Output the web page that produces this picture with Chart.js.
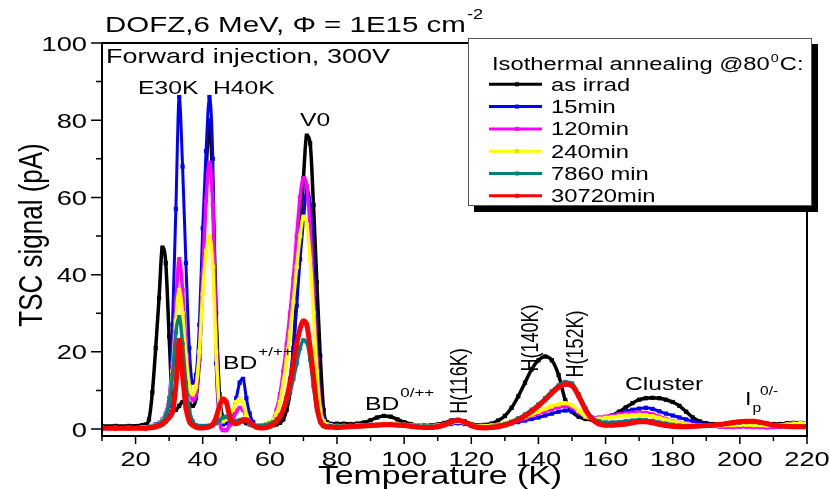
<!DOCTYPE html>
<html>
<head>
<meta charset="utf-8">
<title>TSC spectra - isothermal annealing</title>
<script src="https://cdn.jsdelivr.net/npm/chart.js@4.4.1/dist/chart.umd.min.js"></script>
<style>
  html, body { margin: 0; padding: 0; background: #fff; overflow: hidden; }
  canvas { display: block; }
</style>
</head>
<body>
<canvas id="tsc" width="829" height="489"></canvas>
<script>
// Temperature grid (K): coarse in the tails, 1 K through the low-T peaks
const temps = [10, 14, 18, 22,
  23, 24, 25, 26, 27, 28, 29, 30, 31, 32, 33, 34, 35, 36, 37, 38, 39, 40, 41, 42, 43, 44, 45, 46, 47, 48, 49, 50,
  51, 52, 53, 54, 55, 56, 57, 58, 59, 60, 61, 62, 63, 64, 65, 66, 67, 68, 69, 70, 71, 72, 73, 74, 75, 76, 77, 78,
  80, 82, 84, 86, 88, 90, 92, 94, 96, 98, 100, 102, 104, 106, 108, 110, 112, 114, 116, 118,
  120, 122, 124, 126, 128, 130, 132, 134, 136, 138, 140, 142, 144, 146, 148, 150, 152, 154, 156, 158,
  160, 162, 164, 166, 168, 170, 172, 174, 176, 178, 180, 182, 184, 186, 188, 190, 192, 194, 196, 198,
  200, 202, 204, 206, 208, 210, 212, 214, 216, 218, 220];

// TSC signal (pA) for each annealing step
const asIrrad = [0.8, 0.8, 0.8, 1.0,
  1.2, 2.5, 9.5, 21, 34, 47, 43, 24, 7, 5, 6, 7, 7, 6.5, 6, 8, 18, 40, 66, 80, 62, 30, 9, 3, 2, 2, 2, 2,
  2, 2, 1.5, 1.2, 1, 1, 0.9, 0.9, 0.9, 1, 1, 1.2, 1.6, 2.5, 5, 9.5, 20, 35, 50, 65, 76, 74, 58, 38, 19, 5, 1.8, 1.4,
  1.4, 1.4, 1.3, 1.4, 1.7, 2.3, 3.0, 3.4, 3.2, 2.5, 1.8, 1.3, 1.0, 0.9, 1.0, 1.2, 1.6, 2.2, 2.4, 2.0,
  1.3, 1.0, 1.1, 1.4, 2.2, 3.4, 5.5, 8.5, 12, 15.5, 17.8, 18.8, 17.8, 14, 7.5, 4.5, 3.2, 2.6, 2.4, 2.6,
  3.0, 3.6, 4.5, 5.6, 6.7, 7.6, 8.0, 8.1, 8.0, 7.6, 7.0, 6.0, 4.5, 3.0, 2.0, 1.5, 1.3, 1.3, 1.4, 1.5,
  1.6, 1.7, 1.7, 1.6, 1.4, 1.3, 1.3, 1.5, 1.6, 1.6, 1.6];

const min15 = [0.4, 0.4, 0.4, 0.5,
  0.5, 0.6, 0.8, 1.2, 1.6, 2.2, 3, 6, 27, 57, 86, 68, 43, 21, 12, 14, 27, 52, 72, 86, 70, 17, 3.5, 1.2, 1.5, 3, 4.5, 8,
  12, 13, 8, 4, 1.8, 1, 0.9, 0.9, 1, 1.2, 1.5, 2, 3, 5, 8, 13, 21, 32, 44, 54, 62, 58, 42, 22, 8, 3, 1.5, 1.2,
  0.9, 0.9, 0.9, 1.0, 1.0, 1.1, 1.2, 1.3, 1.3, 1.2, 1.1, 1.0, 0.9, 0.8, 0.8, 0.9, 1.0, 1.3, 1.5, 1.3,
  1.0, 0.8, 0.8, 0.9, 1.0, 1.2, 1.5, 1.8, 2.2, 2.6, 3.0, 3.5, 4.0, 4.5, 4.8, 4.6, 3.8, 3.0, 2.6, 2.7,
  3.0, 3.5, 4.0, 4.6, 5.0, 5.3, 5.5, 5.2, 4.6, 4.0, 3.5, 3.0, 2.5, 2.0, 1.5, 1.1, 0.9, 0.8, 0.8, 0.8,
  0.8, 0.8, 0.8, 0.8, 0.7, 0.7, 0.7, 0.7, 0.7, 0.7, 0.7];

const min120 = [0.3, 0.3, 0.3, 0.4,
  0.4, 0.5, 0.7, 1.0, 1.5, 2.5, 4, 8, 17, 32, 44, 36, 22, 11, 7.5, 9, 19, 40, 59, 69, 58, 25, 2.5, -0.3, -0.3, 1, 2.5, 4.5,
  5.5, 5, 3, 1.5, 1, 0.9, 0.9, 1, 1.3, 1.7, 2.3, 5, 9, 15, 22, 30, 39, 50, 60, 65, 63, 52, 35, 18, 6, 2, 1.2, 1.0,
  0.8, 0.8, 0.8, 0.9, 1.0, 1.1, 1.2, 1.3, 1.3, 1.2, 1.1, 1.0, 0.9, 0.8, 0.8, 0.9, 1.1, 1.5, 1.8, 1.5,
  1.0, 0.8, 0.8, 0.9, 1.1, 1.4, 1.8, 2.3, 2.8, 3.4, 4.0, 4.6, 5.2, 5.7, 6.0, 5.6, 4.3, 3.2, 2.8, 3.0,
  3.2, 3.5, 3.8, 4.0, 4.2, 4.3, 4.2, 3.8, 3.2, 2.6, 2.0, 1.6, 1.3, 1.1, 1.0, 0.9, 0.8, 0.6, 0.5, 0.5,
  0.6, 0.6, 0.5, 0.5, 0.4, 0.5, 0.6, 0.7, 0.8, 0.8, 0.8];

const min240 = [0.3, 0.3, 0.3, 0.4,
  0.4, 0.5, 0.7, 1.0, 1.5, 2.2, 3.5, 7, 15, 28, 36, 30, 19, 11, 9, 11, 20, 35, 46, 50, 42, 20, 5, 2, 2.5, 3.5, 5, 7,
  7.8, 6.5, 3.5, 1.5, 1, 0.9, 0.9, 1, 1.3, 1.8, 2.3, 4, 7, 12, 18, 25, 33, 42, 50, 55, 53, 44, 30, 15, 5, 2, 1.2, 1.0,
  0.8, 0.8, 0.8, 0.9, 1.0, 1.1, 1.2, 1.3, 1.3, 1.2, 1.1, 1.0, 0.9, 0.8, 0.8, 0.9, 1.2, 1.6, 1.9, 1.6,
  1.1, 0.8, 0.8, 0.9, 1.1, 1.5, 1.9, 2.5, 3.1, 3.8, 4.5, 5.2, 5.9, 6.4, 6.7, 6.2, 4.7, 3.3, 2.7, 2.7,
  2.9, 3.1, 3.3, 3.5, 3.6, 3.7, 3.6, 3.3, 2.9, 2.4, 1.9, 1.5, 1.2, 1.0, 0.9, 0.9, 0.9, 0.9, 1.0, 1.0,
  1.1, 1.1, 1.0, 1.0, 0.9, 0.9, 1.0, 1.2, 1.4, 1.5, 1.5];

const min7860 = [0.2, 0.2, 0.2, 0.3,
  0.3, 0.4, 0.6, 0.9, 1.4, 2, 3.5, 7, 14, 25, 29, 22, 12, 5, 2, 1, 0.8, 0.8, 0.8, 0.9, 1.1, 1.5, 2.2, 3, 3.2, 2.6, 2.0, 2.0,
  2.3, 2.5, 2.2, 1.5, 1.0, 0.8, 0.8, 0.9, 1.1, 1.4, 1.8, 2.5, 3.5, 5, 7, 9.5, 13, 17, 21, 23, 22.5, 18, 11, 5, 2, 1, 0.8, 0.8,
  0.7, 0.7, 0.7, 0.8, 0.9, 1.0, 1.1, 1.2, 1.2, 1.1, 1.0, 0.9, 0.8, 0.7, 0.7, 0.8, 1.1, 1.7, 2.1, 1.7,
  1.0, 0.6, 0.5, 0.6, 0.9, 1.3, 1.9, 2.8, 3.8, 5.0, 6.4, 8.0, 9.8, 11.3, 12.2, 11.8, 9.0, 5.5, 3.0, 2.0,
  1.7, 1.7, 1.8, 2.0, 2.2, 2.4, 2.3, 2.1, 1.7, 1.4, 1.1, 0.9, 0.8, 0.8, 0.8, 0.9, 1.0, 1.1, 1.3, 1.5,
  1.7, 1.8, 1.8, 1.6, 1.3, 1.0, 0.8, 0.7, 0.7, 0.7, 0.7];

const min30720 = [0.2, 0.2, 0.2, 0.2,
  0.2, 0.3, 0.4, 0.6, 0.9, 1.3, 2, 3, 4.5, 11, 23, 14, 5.5, 2, 1, 0.5, 0.3, 0.3, 0.4, 0.6, 1.2, 3, 6, 7.8, 7, 3.5, 1.6, 1.4,
  1.8, 2.3, 2.4, 1.8, 1.0, 0.5, 0.3, 0.3, 0.4, 0.7, 1.2, 2, 3.2, 5, 8, 12, 17, 22, 26, 28, 27, 21, 13.5, 6, 2, 0.8, 0.5, 0.5,
  0.4, 0.5, 0.6, 0.7, 0.8, 0.9, 1.0, 1.1, 1.1, 1.0, 0.9, 0.7, 0.5, 0.4, 0.4, 0.6, 1.1, 1.9, 2.3, 1.8,
  0.9, 0.4, 0.3, 0.4, 0.6, 1.0, 1.6, 2.4, 3.4, 4.6, 6.0, 7.6, 9.3, 10.8, 11.6, 11.2, 8.5, 5.0, 2.5, 1.3,
  1.0, 1.0, 1.1, 1.3, 1.6, 1.9, 1.9, 1.6, 1.2, 0.9, 0.7, 0.6, 0.6, 0.7, 0.8, 0.9, 1.0, 1.2, 1.4, 1.7,
  1.9, 2.0, 2.0, 1.8, 1.4, 1.0, 0.8, 0.7, 0.6, 0.6, 0.6];

const seriesNames = ['as irrad', '15min', '120min', '240min', '7860 min', '30720min'];
const xTicks = [20, 40, 60, 80, 100, 120, 140, 160, 180, 200, 220];
const xMinorTicks = [10, 30, 50, 70, 90, 110, 130, 150, 170, 190, 210];
const yTicks = [0, 20, 40, 60, 80, 100];
const yMinorTicks = [10, 30, 50, 70, 90];

// styling
const seriesColors = ['#000000', '#0000ff', '#ff00ff', '#ffff00', '#008080', '#ff0000'];
const lineWidths = [3.5, 3, 3.5, 3.5, 3.5, 5];
const FONT = '"Liberation Sans", Arial, sans-serif';
const SX = 1.3; // horizontal stretch applied to all lettering

function text(ctx, s, x, y, size, align) {
  ctx.save();
  ctx.font = size + 'px ' + FONT;
  ctx.textAlign = align || 'left';
  ctx.textBaseline = 'alphabetic';
  ctx.translate(x, y);
  ctx.scale(SX, 1);
  ctx.fillText(s, 0, 0);
  const w = ctx.measureText(s).width * SX;
  ctx.restore();
  return w;
}

// text reading bottom-to-top, centred on (x, y)
function vtext(ctx, s, x, y, size, baseline) {
  ctx.save();
  ctx.font = size + 'px ' + FONT;
  ctx.textAlign = 'center';
  ctx.textBaseline = baseline || 'middle';
  ctx.translate(x, y);
  ctx.scale(SX, 1);
  ctx.rotate(-Math.PI / 2);
  ctx.fillText(s, 0, 0);
  ctx.restore();
}

const decor = {
  id: 'decor',
  beforeDraw(chart) {
    const ctx = chart.ctx;
    ctx.save();
    ctx.fillStyle = '#fff';
    ctx.fillRect(0, 0, chart.width, chart.height);
    ctx.restore();
  },
  afterDraw(chart) {
    const ctx = chart.ctx;
    const a = chart.chartArea;
    const xs = chart.scales.x, ys = chart.scales.y;
    ctx.save();
    ctx.fillStyle = '#000';
    ctx.strokeStyle = '#000';

    // frame
    ctx.lineWidth = 2;
    ctx.strokeRect(a.left, a.top, a.right - a.left, a.bottom - a.top);

    // ticks
    ctx.lineWidth = 1.5;
    ctx.beginPath();
    xTicks.forEach(v => { const p = xs.getPixelForValue(v); ctx.moveTo(p, a.bottom); ctx.lineTo(p, a.bottom + 8); });
    xMinorTicks.forEach(v => { const p = xs.getPixelForValue(v); ctx.moveTo(p, a.bottom); ctx.lineTo(p, a.bottom + 5); });
    yTicks.forEach(v => { const p = ys.getPixelForValue(v); ctx.moveTo(a.left, p); ctx.lineTo(a.left - 11, p); });
    yMinorTicks.forEach(v => { const p = ys.getPixelForValue(v); ctx.moveTo(a.left, p); ctx.lineTo(a.left - 6, p); });
    ctx.stroke();

    // tick labels
    xTicks.forEach(v => text(ctx, String(v), xs.getPixelForValue(v), 466, 21, 'center'));
    yTicks.forEach(v => text(ctx, String(v), 87, ys.getPixelForValue(v) + 7.5, 21, 'right'));

    // axis titles
    text(ctx, 'Temperature (K)', 440, 484, 26, 'center');
    vtext(ctx, 'TSC signal (pA)', 42, 235, 26, 'alphabetic');

    // title
    const tw = text(ctx, 'DOFZ,6 MeV, \u03A6 = 1E15 cm', 105, 31.5, 22.7);
    text(ctx, '-2', 105 + tw + 1, 19, 14);
    text(ctx, 'Forward injection, 300V', 106, 63, 20.8);

    // peak labels
    text(ctx, 'E30K', 138, 94, 19);
    text(ctx, 'H40K', 213, 94, 19);
    text(ctx, 'V0', 300, 126, 19);
    let w = text(ctx, 'BD', 223, 369, 19);
    text(ctx, '+/++', 223 + w + 1, 356, 13);
    w = text(ctx, 'BD', 365, 410, 19);
    text(ctx, '0/++', 365 + w + 1, 397, 13);
    vtext(ctx, 'H(116K)', 461, 381, 18);
    vtext(ctx, 'H(140K)', 532, 338, 18);
    vtext(ctx, 'H(152K)', 577, 344, 18);
    text(ctx, 'Cluster', 625, 390, 19);
    w = text(ctx, 'I', 745, 405, 18);
    text(ctx, 'p', 745 + w + 1, 412, 12);
    text(ctx, '0/-', 760, 395, 12);

    // legend box with drop shadow
    const lx = 468, ly = 38, lw = 344, lh = 168;
    ctx.fillStyle = '#000';
    ctx.fillRect(lx + 6, ly + 6, lw, lh);
    ctx.fillStyle = '#fff';
    ctx.fillRect(lx, ly, lw, lh);
    ctx.strokeStyle = '#555';
    ctx.lineWidth = 1;
    ctx.strokeRect(lx + 0.5, ly + 0.5, lw - 1, lh - 1);
    ctx.fillStyle = '#000';
    const t1 = text(ctx, 'Isothermal annealing @80', 492, 70, 18.3);
    const t2 = text(ctx, '0', 492 + t1 + 1, 62, 11);
    text(ctx, 'C:', 492 + t1 + t2 + 2, 70, 18.3);
    seriesNames.forEach((name, i) => {
      const y = 84.3 + i * 22.3;
      ctx.strokeStyle = seriesColors[i];
      ctx.lineWidth = 3;
      ctx.beginPath();
      ctx.moveTo(489, y);
      ctx.lineTo(542, y);
      ctx.stroke();
      ctx.fillStyle = seriesColors[i] === '#ffff00' ? '#e0e000' : seriesColors[i];
      ctx.fillRect(515, y - 2, 4, 4);
      ctx.fillStyle = '#000';
      text(ctx, name, 551, y + 6.5, 18.3);
    });
    ctx.restore();
  }
};

const series = [asIrrad, min15, min120, min240, min7860, min30720];
const datasets = series.map((vals, i) => ({
  label: seriesNames[i],
  data: temps.map((t, k) => ({ x: t, y: vals[k] })),
  borderColor: seriesColors[i],
  backgroundColor: seriesColors[i],
  borderWidth: lineWidths[i],
  pointStyle: 'rect',
  pointRadius: 3,
  pointBorderWidth: 0,
  cubicInterpolationMode: 'monotone',
  fill: false,
  order: series.length - i
}));

new Chart(document.getElementById('tsc').getContext('2d'), {
  type: 'line',
  data: { datasets },
  options: {
    responsive: false,
    animation: false,
    devicePixelRatio: 1,
    layout: { padding: { left: 102, top: 43, right: 22, bottom: 53 } },
    plugins: {
      legend: { display: false },
      tooltip: { enabled: false },
      title: { display: false }
    },
    scales: {
      x: { type: 'linear', display: false, min: 10, max: 220 },
      y: { type: 'linear', display: false, min: -1.8, max: 100 }
    }
  },
  plugins: [decor]
});
</script>
</body>
</html>
